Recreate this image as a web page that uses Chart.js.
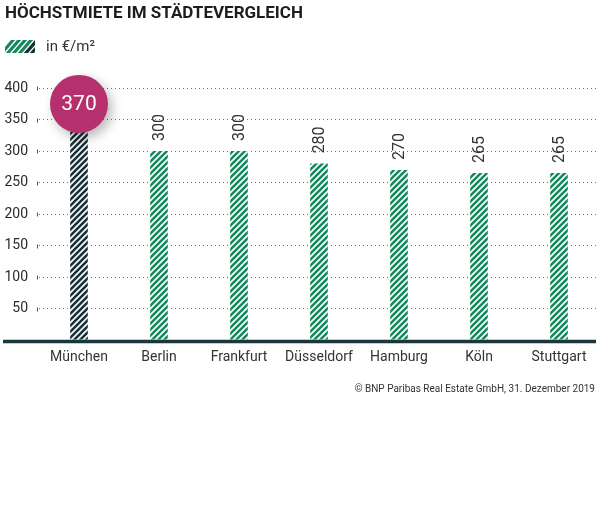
<!DOCTYPE html>
<html>
<head>
<meta charset="utf-8">
<script src="https://cdn.jsdelivr.net/npm/chart.js@4"></script>
<style>
  html, body { margin: 0; padding: 0; background: #fff; }
  #wrap { position: relative; width: 600px; height: 518px; overflow: hidden; }
  #chart { position: absolute; left: 0; top: 0; }
  #title { position: absolute; left: 5px; top: 2px; font: bold 17px Roboto, sans-serif; color: #1d1d1b; }
  #legend { position: absolute; left: 5px; top: 38px; height: 16px; display: flex; align-items: center; font: 15px Roboto, sans-serif; color: #333; }
  #legend canvas { margin-right: 11px; }
  #source { position: absolute; right: 5px; top: 383px; font: 10px Roboto, sans-serif; color: #333; }
</style>
</head>
<body>
<div id="wrap">
  <canvas id="chart" width="600" height="518"></canvas>
  <div id="title">HÖCHSTMIETE IM STÄDTEVERGLEICH</div>
  <div id="legend"><canvas id="legbox" width="30" height="13"></canvas><span>in €/m²</span></div>
  <div id="source">© BNP Paribas Real Estate GmbH, 31. Dezember 2019</div>
</div>
<script>
const categories = ['München', 'Berlin', 'Frankfurt', 'Düsseldorf', 'Hamburg', 'Köln', 'Stuttgart'];
const rents = [370, 300, 300, 280, 270, 265, 265];
const highlightIndex = 0;
const yMin = 0, yMax = 400, yStep = 50;
const legendLabel = 'in €/m²';

const GREEN = '#15895d';
const DARK = '#17303a';
const MAGENTA = '#b5306c';

function stripePattern(color) {
  const s = 6;
  const c = document.createElement('canvas');
  c.width = s; c.height = s;
  const g = c.getContext('2d');
  g.fillStyle = '#fff';
  g.fillRect(0, 0, s, s);
  g.strokeStyle = color;
  g.lineWidth = 2.6;
  g.beginPath();
  g.moveTo(-1, s + 1); g.lineTo(s + 1, -1);
  g.moveTo(-1, 1); g.lineTo(1, -1);
  g.moveTo(s - 1, s + 1); g.lineTo(s + 1, s - 1);
  g.stroke();
  return g.createPattern(c, 'repeat');
}

// legend swatch
(function () {
  const c = document.getElementById('legbox');
  const g = c.getContext('2d');
  g.lineWidth = 3.2;
  const cols = [GREEN, GREEN, GREEN, GREEN, DARK, DARK];
  for (let i = 0; i < cols.length; i++) {
    const x0 = -4 + i * 6;
    g.strokeStyle = cols[i];
    g.beginPath();
    g.moveTo(x0, 14); g.lineTo(x0 + 13, -1);
    g.stroke();
  }
})();

const greenPat = stripePattern(GREEN);
const darkPat = stripePattern(DARK);

const overlay = {
  id: 'overlay',
  afterDatasetsDraw(chart) {
    const ctx = chart.ctx;
    const meta = chart.getDatasetMeta(0);
    const area = chart.chartArea;
    const ys = chart.scales.y;
    ctx.save();
    // small tick marks at left of grid
    ctx.strokeStyle = '#555';
    ctx.lineWidth = 1;
    for (let v = yStep; v <= yMax; v += yStep) {
      const y = Math.round(ys.getPixelForValue(v)) + 0.5;
      ctx.beginPath();
      ctx.moveTo(37.5, y - 2);
      ctx.lineTo(37.5, y + 2);
      ctx.stroke();
    }
    // baseline
    ctx.strokeStyle = '#1b363d';
    ctx.lineWidth = 3.5;
    ctx.beginPath();
    ctx.moveTo(3, area.bottom + 1.5);
    ctx.lineTo(596, area.bottom + 1.5);
    ctx.stroke();
    // value labels
    meta.data.forEach((bar, i) => {
      if (i === highlightIndex) return;
      ctx.save();
      ctx.translate(bar.x, bar.y - 10);
      ctx.rotate(-Math.PI / 2);
      ctx.font = '16px Roboto, sans-serif';
      ctx.fillStyle = '#333';
      ctx.textAlign = 'left';
      ctx.textBaseline = 'middle';
      ctx.fillText(String(rents[i]), 0, 1);
      ctx.restore();
    });
    // highlight bubble
    const hb = meta.data[highlightIndex];
    const cx = hb.x, cy = hb.y - 3;
    ctx.save();
    ctx.shadowColor = 'rgba(0,0,0,0.28)';
    ctx.shadowBlur = 12;
    ctx.shadowOffsetX = 4;
    ctx.shadowOffsetY = 5;
    ctx.fillStyle = MAGENTA;
    ctx.beginPath();
    ctx.arc(cx, cy, 29, 0, Math.PI * 2);
    ctx.fill();
    ctx.restore();
    ctx.fillStyle = '#fff';
    ctx.font = '21px Roboto, sans-serif';
    ctx.textAlign = 'center';
    ctx.textBaseline = 'middle';
    ctx.fillText(String(rents[highlightIndex]), cx, cy + 1);
    ctx.restore();
  }
};

new Chart(document.getElementById('chart'), {
  type: 'bar',
  data: {
    labels: categories,
    datasets: [{
      label: legendLabel,
      data: rents,
      backgroundColor: rents.map((v, i) => i === highlightIndex ? darkPat : greenPat),
      borderWidth: 0,
      barPercentage: 0.22,
      categoryPercentage: 1
    }]
  },
  options: {
    responsive: false,
    animation: false,
    devicePixelRatio: 1,
    layout: { padding: { top: 88, right: 1, bottom: 148, left: 0 } },
    plugins: { legend: { display: false }, tooltip: { enabled: false }, title: { display: false } },
    scales: {
      x: {
        grid: { display: false, drawTicks: false },
        border: { display: false },
        ticks: { padding: 9, color: '#333', font: { family: 'Roboto', size: 14 } },
        afterFit(s) { s.height = 30; }
      },
      y: {
        min: yMin, max: yMax,
        grid: { color: '#6e6e6e', lineWidth: 1, drawTicks: false },
        border: { display: false, dash: [1, 3] },
        ticks: {
          stepSize: yStep, padding: 11, color: '#2b2b2b',
          font: { family: 'Roboto', size: 14 },
          callback: v => v === 0 ? '' : String(v)
        },
        afterFit(s) { s.width = 39; }
      }
    }
  },
  plugins: [overlay]
});
</script>
</body>
</html>
